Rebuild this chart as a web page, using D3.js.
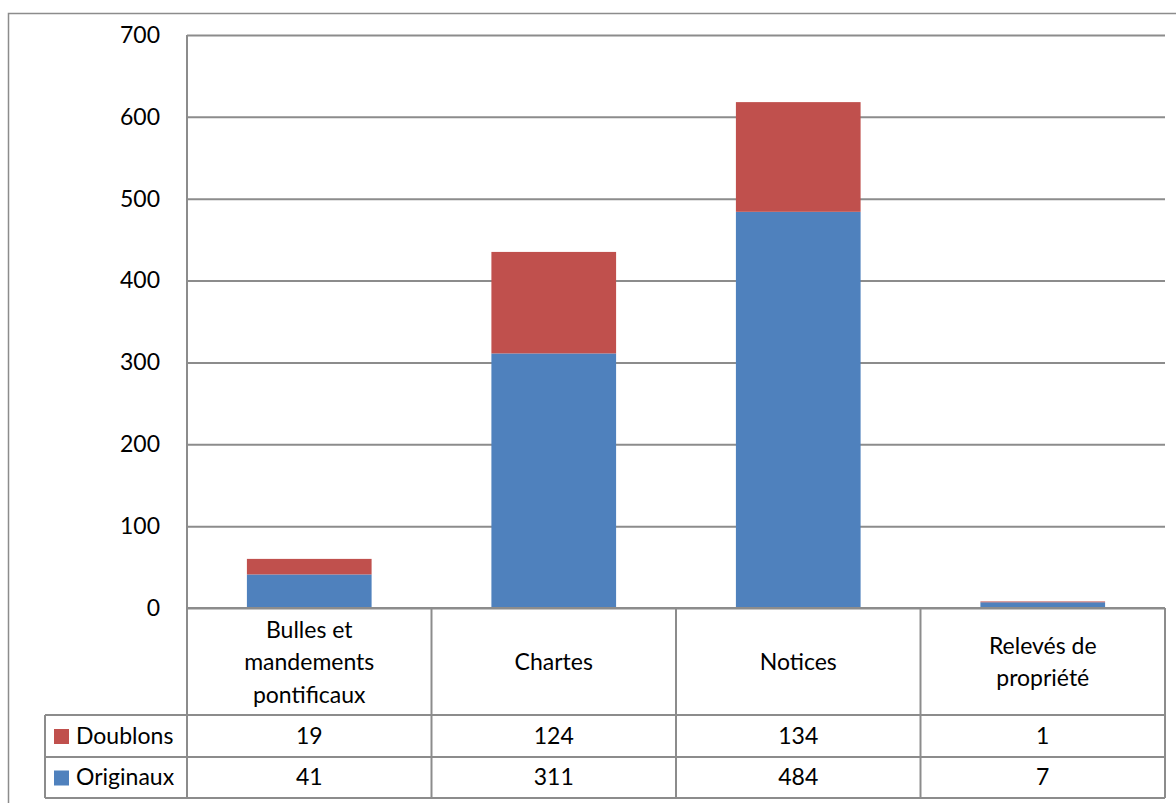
<!DOCTYPE html>
<html><head><meta charset="utf-8">
<script src="https://cdn.jsdelivr.net/npm/d3@7"></script>
<style>html,body{margin:0;padding:0;background:#fff;overflow:hidden}</style>
</head><body>
<svg id="c" width="1176" height="803"></svg>
<script>
const categories = [["Bulles et","mandements","pontificaux"],["Chartes"],["Notices"],["Relevés de","propriété"]];
const categoryKeys = ["Bulles et mandements pontificaux","Chartes","Notices","Relevés de propriété"];
const seriesNames = ["Originaux","Doublons"];
const originaux = [41, 311, 484, 7];
const doublons = [19, 124, 134, 1];
const seriesColors = ["#4F81BD","#C0504D"];
const yTicks = [0,100,200,300,400,500,600,700];

const svg = d3.select("#c");
const font = "Lato, 'Open Sans', sans-serif";
const fs = 23;
const grid = "#8c8c8c";
const L = 187, R = 1165, T = 35, B = 608;
const rowH1 = 715, rowH2 = 757, rowH3 = 798, legL = 45;

// outer frame
svg.append("rect").attr("x",8.5).attr("y",13.5).attr("width",1200).attr("height",850)
  .attr("fill","none").attr("stroke",grid).attr("stroke-width",1.5);

const x = d3.scaleBand().domain(categoryKeys).range([L,R]).paddingInner(0).paddingOuter(0);
const y = d3.scaleLinear().domain([0,700]).range([B,T]);

// gridlines
const yAxis = d3.axisLeft(y).tickValues(yTicks).tickSize(-(R-L)).tickFormat(d3.format("d")).tickPadding(27);
const ga = svg.append("g").attr("transform",`translate(${L},0)`).call(yAxis);
ga.select(".domain").remove();
ga.selectAll(".tick line").attr("stroke",grid).attr("stroke-width",2);
ga.selectAll(".tick text").attr("font-family",font).attr("font-size",fs).attr("fill","#000");

// stacked bars
const data = categoryKeys.map((k,i)=>({cat:k, Originaux:originaux[i], Doublons:doublons[i]}));
const stack = d3.stack().keys(seriesNames)(data);
const bw = x.bandwidth()*0.51;
svg.append("g").selectAll("g").data(stack).join("g")
  .attr("fill",(d,i)=>seriesColors[i])
  .selectAll("rect").data(d=>d).join("rect")
  .attr("x",d=>x(d.data.cat)+(x.bandwidth()-bw)/2)
  .attr("width",bw)
  .attr("y",d=>y(d[1]))
  .attr("height",d=>y(d[0])-y(d[1]));

// data table lines
const tl = svg.append("g").attr("stroke",grid).attr("stroke-width",2).attr("fill","none");
tl.append("line").attr("x1",L).attr("x2",L).attr("y1",T).attr("y2",rowH3);
tl.append("line").attr("x1",L).attr("x2",R).attr("y1",B).attr("y2",B);
categoryKeys.forEach((k,i)=>{
  const xx = x(k)+x.bandwidth();
  tl.append("line").attr("x1",xx).attr("x2",xx).attr("y1",B).attr("y2",rowH3);
});
[rowH1,rowH2,rowH3].forEach(yy=>tl.append("line").attr("x1",legL).attr("x2",R).attr("y1",yy).attr("y2",yy));
tl.append("line").attr("x1",legL).attr("x2",legL).attr("y1",rowH1).attr("y2",rowH3);

// category labels
categories.forEach((lines,i)=>{
  const cx = x(categoryKeys[i])+x.bandwidth()/2;
  const cy = (B+rowH1)/2;
  const lh = 32.5;
  const t = svg.append("text").attr("font-family",font).attr("font-size",fs).attr("text-anchor","middle").attr("fill","#000");
  lines.forEach((ln,j)=>{
    t.append("tspan").attr("x",cx).attr("y",cy + (j-(lines.length-1)/2)*lh + 8.5).text(ln);
  });
});

// table rows
const rows = [{name:"Doublons",vals:doublons,color:seriesColors[1],y0:rowH1,y1:rowH2},
              {name:"Originaux",vals:originaux,color:seriesColors[0],y0:rowH2,y1:rowH3}];
rows.forEach(r=>{
  const cy = (r.y0+r.y1)/2;
  svg.append("rect").attr("x",54).attr("y",cy-7).attr("width",15).attr("height",15).attr("fill",r.color);
  svg.append("text").attr("x",76).attr("y",cy+7.5).attr("font-family",font).attr("font-size",fs).attr("fill","#000").text(r.name);
  r.vals.forEach((v,i)=>{
    svg.append("text").attr("x",x(categoryKeys[i])+x.bandwidth()/2).attr("y",cy+7.5)
      .attr("text-anchor","middle").attr("font-family",font).attr("font-size",fs).attr("fill","#000").text(v);
  });
});
</script>
</body></html>
